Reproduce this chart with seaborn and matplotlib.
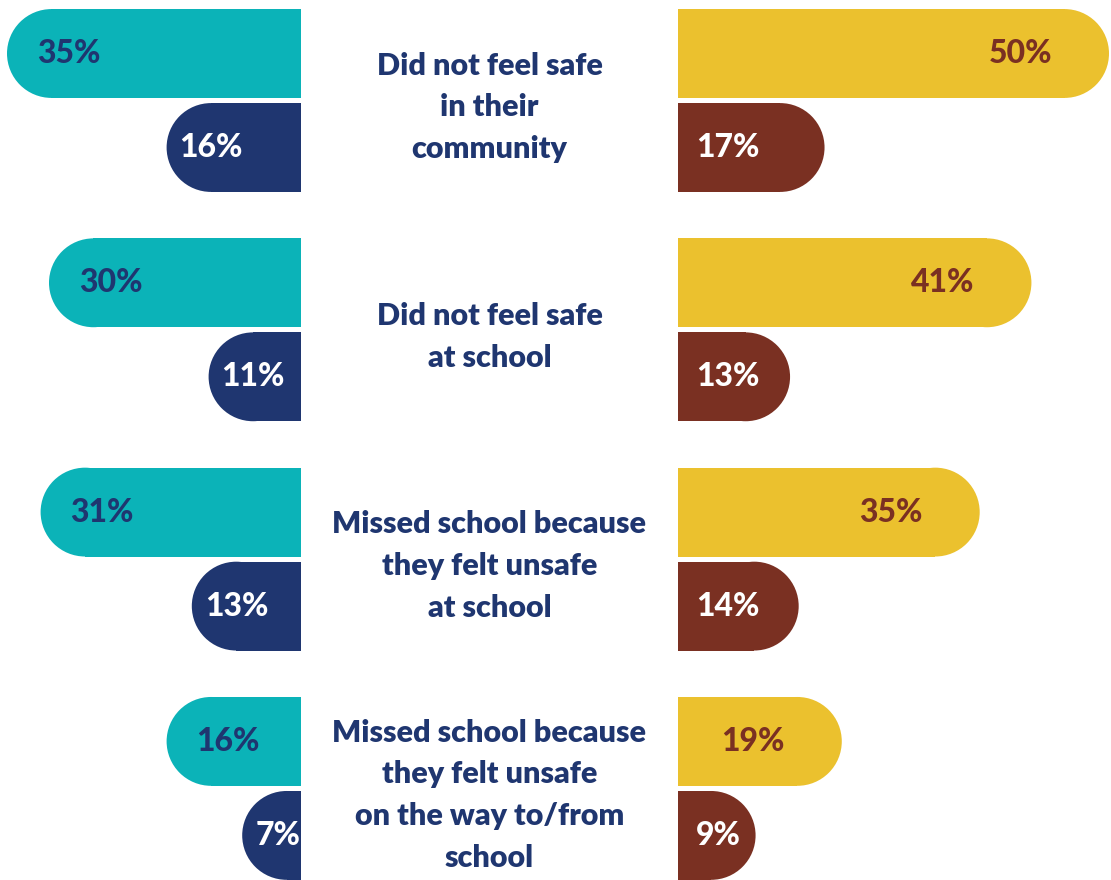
import matplotlib
import matplotlib.pyplot as plt
import pandas as pd
import seaborn as sns
from matplotlib.patches import Ellipse

matplotlib.use("Agg")

QUESTIONS = [
    "Did not feel safe\nin their\ncommunity",
    "Did not feel safe\nat school",
    "Missed school because\nthey felt unsafe\nat school",
    "Missed school because\nthey felt unsafe\non the way to/from\nschool",
]
LEFT_SERIES = ["Left A", "Left B"]
LEFT_A = [35, 30, 31, 16]
LEFT_B = [16, 11, 13, 7]
RIGHT_SERIES = ["Right A", "Right B"]
RIGHT_A = [50, 41, 35, 19]
RIGHT_B = [17, 13, 14, 9]

TEAL = "#0bb3b8"
NAVY = "#1f3670"
YELLOW = "#ebc12e"
BROWN = "#7a3022"

FIG_W, FIG_H, DPI = 1111, 880, 100
LEFT_PX = (0, 301)
RIGHT_PX = (678, 1111)
PX_PER_PCT_LEFT = 8.4
PX_PER_PCT_RIGHT = 8.62
FONT = ["Lato", "DejaVu Sans"]


def long_frame(names, first, second):
    rows = []
    for q, a, b in zip(QUESTIONS, first, second):
        rows.append({"question": q, "series": names[0], "value": a})
        rows.append({"question": q, "series": names[1], "value": b})
    return pd.DataFrame(rows)


def make_axes(fig, px_range):
    x0, x1 = px_range
    return fig.add_axes([x0 / FIG_W, 0, (x1 - x0) / FIG_W, 1])


def round_outer_ends(ax, px_per_unit_x, px_per_unit_y):
    # cut each seaborn bar short by one radius and cap it with a circle
    for p in list(ax.patches):
        x, y = p.get_x(), p.get_y()
        w, h = p.get_width(), p.get_height()
        r_y = abs(h) / 2
        r_x = r_y * px_per_unit_y / px_per_unit_x
        end = x + w
        p.set_width(w - r_x)
        p.set_edgecolor("none")
        p.set_linewidth(0)
        cap = Ellipse((end - r_x, y + h / 2), 2 * r_x, 2 * r_y,
                      facecolor=p.get_facecolor(), edgecolor="none", linewidth=0)
        ax.add_patch(cap)


def draw_side(ax, df, palette, span_pct, px_width, inverted):
    sns.barplot(
        data=df, y="question", x="value", hue="series", palette=palette,
        orient="h", width=0.82, gap=0.055, dodge=True, legend=False, ax=ax,
        saturation=1,
    )
    y_top = -100.5 / 229.3
    y_bot = (FIG_H - 100.5) / 229.3
    ax.set_ylim(y_bot, y_top)
    if inverted:
        ax.set_xlim(span_pct, 0)
    else:
        ax.set_xlim(0, span_pct)
    ax.axis("off")
    round_outer_ends(ax, px_width / span_pct, FIG_H / (y_bot - y_top))


sns.set_theme(style="white")
plt.rcParams["font.family"] = FONT

fig = plt.figure(figsize=(FIG_W / DPI, FIG_H / DPI), dpi=DPI)

left_df = long_frame(LEFT_SERIES, LEFT_A, LEFT_B)
right_df = long_frame(RIGHT_SERIES, RIGHT_A, RIGHT_B)

ax_l = make_axes(fig, LEFT_PX)
left_span = (LEFT_PX[1] - LEFT_PX[0]) / PX_PER_PCT_LEFT
draw_side(ax_l, left_df, [TEAL, NAVY], left_span, LEFT_PX[1] - LEFT_PX[0], True)

ax_r = make_axes(fig, RIGHT_PX)
right_span = (RIGHT_PX[1] - RIGHT_PX[0]) / PX_PER_PCT_RIGHT
draw_side(ax_r, right_df, [YELLOW, BROWN], right_span, RIGHT_PX[1] - RIGHT_PX[0], False)

offset = 0.41 / 2
label_kw = dict(fontsize=23, fontweight="black", va="center")
for i in range(len(QUESTIONS)):
    ax_l.text(LEFT_A[i] - 30 / PX_PER_PCT_LEFT, i - offset, f"{LEFT_A[i]}%",
              color=NAVY, ha="left", **label_kw)
    ax_l.text(LEFT_B[i] - 13 / PX_PER_PCT_LEFT, i + offset, f"{LEFT_B[i]}%",
              color="white", ha="left", **label_kw)
    ax_r.text(RIGHT_A[i] - 57 / PX_PER_PCT_RIGHT, i - offset, f"{RIGHT_A[i]}%",
              color=BROWN, ha="right", **label_kw)
    ax_r.text(18 / PX_PER_PCT_RIGHT, i + offset, f"{RIGHT_B[i]}%",
              color="white", ha="left", **label_kw)

ax_c = fig.add_axes([LEFT_PX[1] / FIG_W, 0, (RIGHT_PX[0] - LEFT_PX[1]) / FIG_W, 1])
ax_c.set_ylim(ax_l.get_ylim())
ax_c.set_xlim(0, 1)
ax_c.axis("off")
for i, q in enumerate(QUESTIONS):
    ax_c.text(0.5, i + 0.03, q, ha="center", va="center", multialignment="center",
              color=NAVY, fontsize=22, fontweight="heavy", linespacing=1.6)

fig.savefig("out.png", dpi=DPI)
